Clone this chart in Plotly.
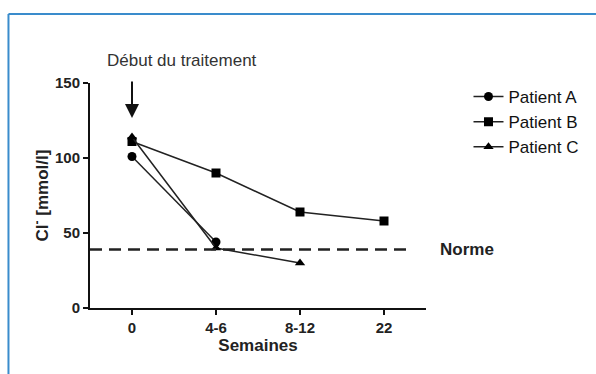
import plotly.graph_objects as go

weeks = ["0", "4-6", "8-12", "22"]
patient_a = [101, 44]
patient_b = [111, 90, 64, 58]
patient_c = [114, 40, 30]
norme = 39
y_ticks = [0, 50, 100, 150]

W, H = 596, 374
L, R, T, B = 90, 166, 83, 66
pw, ph = W - L - R, H - T - B

def px(xp):
    return (xp - L) / pw

def py(yp):
    return (H - B - yp) / ph

FONT = "Liberation Sans, Arial, sans-serif"

fig = go.Figure()
series = [("Patient A", patient_a, "circle", 9),
          ("Patient B", patient_b, "square", 9),
          ("Patient C", patient_c, "triangle-up", 9)]
for name, vals, sym, sz in series:
    fig.add_trace(go.Scatter(
        x=weeks[:len(vals)], y=vals, name=name, mode="lines+markers",
        line=dict(color="#222222", width=1.5),
        marker=dict(symbol=sym, size=sz, color="#000000"),
        cliponaxis=False))

fig.add_shape(type="line", xref="x", yref="y", x0=-0.5, x1=3.31, y0=norme, y1=norme,
              line=dict(color="#222222", width=2.5, dash="12px,7px"))

# blue frame
fig.add_shape(type="line", xref="paper", yref="paper", x0=px(7.5), x1=px(620),
              y0=py(14), y1=py(14), line=dict(color="#3a8ccc", width=2))
fig.add_shape(type="line", xref="paper", yref="paper", x0=px(7.5), x1=px(7.5),
              y0=py(14), y1=py(400), line=dict(color="#3a8ccc", width=2))

fig.add_annotation(x=px(442), xref="paper", y=norme, yref="y", text="<b>Norme</b>",
                   showarrow=False, xanchor="left", yanchor="middle",
                   font=dict(size=17, color="#222222"))
fig.add_annotation(x=px(183), xref="paper", y=py(60), yref="paper", text="Début du traitement",
                   showarrow=False, xanchor="center", yanchor="middle",
                   font=dict(size=17, color="#333333"))
fig.add_annotation(x="0", xref="x", y=(H - B - 118) / ph * 150, yref="y", text="",
                   showarrow=True, arrowhead=2, arrowsize=1.4, arrowwidth=2,
                   arrowcolor="#111111", ax=0, ay=-38)

fig.update_layout(
    width=W, height=H, margin=dict(l=L, r=R, t=T, b=B),
    plot_bgcolor="white", paper_bgcolor="white",
    font=dict(family=FONT, color="#222222"),
    showlegend=True,
    legend=dict(x=px(473), y=py(79), xanchor="left", yanchor="top",
                font=dict(size=17, color="#111111"), itemwidth=30,
                bgcolor="rgba(0,0,0,0)", tracegroupgap=0),
    xaxis=dict(type="category", categoryorder="array", categoryarray=weeks,
               range=[-0.5, 3.5], showline=True, linecolor="#111111", linewidth=2,
               ticks="outside", ticklen=5, tickwidth=2, tickcolor="#111111",
               showgrid=False, zeroline=False,
               tickfont=dict(size=15, color="#222222", family=FONT, weight="bold"),
               title=dict(text="<b>Semaines</b>", font=dict(size=17), standoff=2)),
    yaxis=dict(range=[0, 150], tickvals=y_ticks, showline=True, linecolor="#111111",
               linewidth=2, ticks="outside", ticklen=5, tickwidth=2, tickcolor="#111111",
               showgrid=False, zeroline=False,
               tickfont=dict(size=15, color="#222222", weight="bold"),
               title=dict(text="<b>Cl<sup>-</sup> [mmol/l]</b>", font=dict(size=17), standoff=2)),
)

fig.write_html("out.html", config={"displayModeBar": False},
               post_script="document.body.style.margin='0';document.body.style.overflow='hidden';")
